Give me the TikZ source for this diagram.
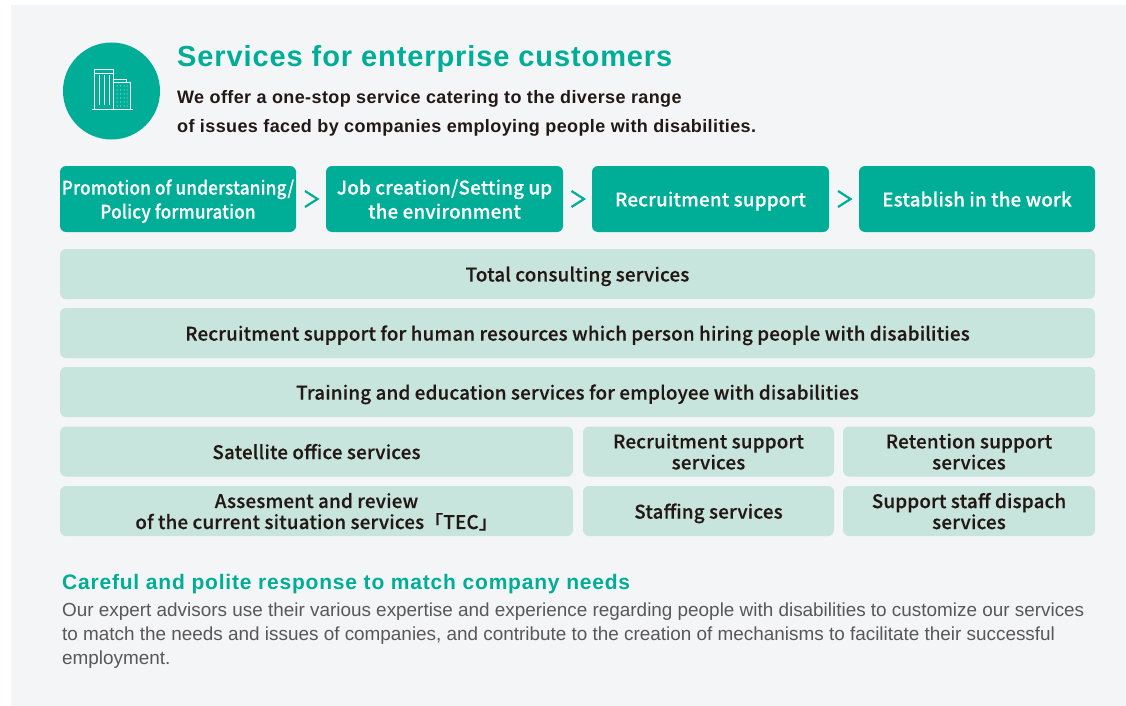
\documentclass[tikz,border=0pt]{standalone}
\usepackage{fontspec}
\setmainfont{Liberation Sans}
\newfontfamily\jpfont[FakeBold=0.35,LetterSpace=1]{Noto Sans CJK JP Medium}
\newfontfamily\jpnarrow[FakeBold=0.35,FakeStretch=0.91,LetterSpace=1]{Noto Sans CJK JP Medium}
\newfontfamily\headfont[LetterSpace=3.1]{Liberation Sans}
\newfontfamily\leadfont[LetterSpace=2.2]{Liberation Sans}
\newfontfamily\needsfont[LetterSpace=3.8]{Liberation Sans}
\definecolor{panelgray}{HTML}{F4F5F7}
\definecolor{teal}{HTML}{00AE97}
\definecolor{palegreen}{HTML}{C7E4DD}
\definecolor{inkdark}{HTML}{231815}
\definecolor{inkgray}{HTML}{595757}
\tikzset{
	stagebox/.style={fill=teal,rounded corners=6pt,text=white,align=center,inner sep=0pt,text depth=0pt,font=\jpfont\fontsize{18.8}{24}\selectfont},
	servicebox/.style={fill=palegreen,rounded corners=6pt,text=inkdark,align=center,inner sep=0pt,text depth=0pt,font=\jpfont\fontsize{18.8}{21}\selectfont},
	chevron/.style={teal,line width=2.2pt},
	iconline/.style={white,line width=0.9pt}
}
\begin{document}
\begin{tikzpicture}[x=1pt,y=-1pt]
\useasboundingbox (0,0) rectangle (1126,706);
\fill [white] (0,0) rectangle (1126,706);
\fill [panelgray] (11,5) rectangle (1126,706);
%header
\node [circle,fill=teal,minimum size=97pt,inner sep=0pt] (badge) at (111.5,91) {};
\draw [iconline] (94.3,73) rectangle (113.3,109.3);
\draw [iconline] (94.3,73) -- (94.3,69.3) -- (113.3,69.3) -- (113.3,73);
\draw [iconline] (113.3,82) rectangle (130,109.3);
\draw [iconline] (113.3,82) -- (113.3,79) -- (126,79) -- (126,82);
\draw [iconline] (91.7,109.3) -- (132.7,109.3);
\foreach \x in {99,104.3,109.3}{
	\draw [white,line width=0.8pt] (\x,75) -- (\x,105);
}
\foreach \x in {117,120.5,124,127}{
	\foreach \y in {86,90,...,106}{
		\fill [white] (\x,\y) circle (0.5pt);
	}
}
\node [anchor=base west,inner sep=0pt,text=teal,font=\headfont\bfseries\fontsize{29}{34}\selectfont] (title) at (177,66.5) {Services for enterprise customers};
\node [anchor=base west,inner sep=0pt,text=inkdark,align=left,font=\leadfont\bfseries\fontsize{18}{29}\selectfont] (lead) at (177,132) {We offer a one-stop service catering to the diverse range\\of issues faced by companies employing people with disabilities.};
%stages
\node [stagebox,minimum width=236pt,minimum height=66pt] (understanding) at (178,199) {\jpnarrow Promotion of understaning/\\\jpnarrow Policy formuration};
\node [stagebox,minimum width=237pt,minimum height=66pt] (creation) at (444.5,199) {Job creation/Setting up\\the environment};
\node [stagebox,minimum width=237pt,minimum height=66pt] (recruitment) at (710.5,199) {Recruitment support};
\node [stagebox,minimum width=236pt,minimum height=66pt] (establish) at (977,199) {Establish in the work};
\foreach \a/\b in {understanding/creation,creation/recruitment,recruitment/establish}{
	\path (\a.east) -- coordinate[midway] (mid) (\b.west);
	\draw [chevron] ([xshift=-6pt,yshift=-8pt]mid) -- ([xshift=6.5pt]mid) -- ([xshift=-6pt,yshift=8pt]mid);
}
%services
\node [servicebox,minimum width=1035pt,minimum height=50pt] (consulting) at (577.5,274) {Total consulting services};
\node [servicebox,minimum width=1035pt,minimum height=50pt] (human) at (577.5,333) {Recruitment support for human resources which person hiring people with disabilities};
\node [servicebox,minimum width=1035pt,minimum height=50pt] (training) at (577.5,392) {Training and education services for employee with disabilities};
\node [servicebox,minimum width=513pt,minimum height=50pt] (satellite) at (316.5,451.5) {Satellite office services};
\node [servicebox,minimum width=251pt,minimum height=50pt] (recruit) at (708.5,451.5) {Recruitment support\\services};
\node [servicebox,minimum width=252pt,minimum height=50pt] (retention) at (969,451.5) {Retention support\\services};
\node [servicebox,minimum width=513pt,minimum height=50pt] (assess) at (316.5,511) {Assesment and review\\of the current situation services「TEC」};
\node [servicebox,minimum width=251pt,minimum height=50pt] (staffing) at (708.5,511) {Staffing services};
\node [servicebox,minimum width=252pt,minimum height=50pt] (dispatch) at (969,511) {Support staff dispach\\services};
%closing text
\node [anchor=base west,inner sep=0pt,text=teal,font=\needsfont\bfseries\fontsize{21}{24}\selectfont] (needs) at (62,589) {Careful and polite response to match company needs};
\node [anchor=base west,inner sep=0pt,text=inkgray,align=left,font=\fontsize{18.9}{24}\selectfont] (advisors) at (62,664) {Our expert advisors use their various expertise and experience regarding people with disabilities to customize our services\\to match the needs and issues of companies, and contribute to the creation of mechanisms to facilitate their successful\\employment.};
\end{tikzpicture}
\end{document}
